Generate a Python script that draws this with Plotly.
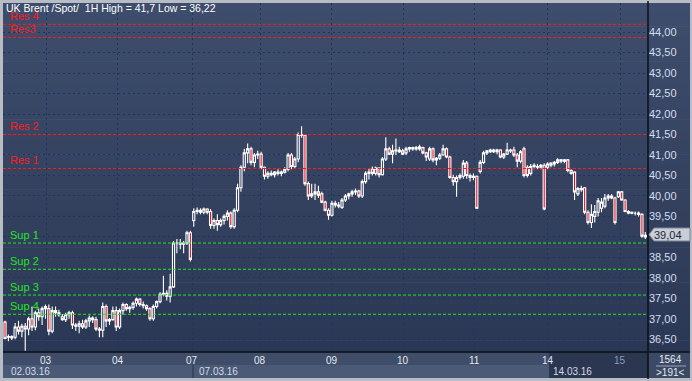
import plotly.graph_objects as go

# ---------------- data (UK Brent, 1H bars, 02.03.16 - 15.03.16) ----------------
open_ = [36.92,36.55,36.57,36.55,36.80,36.70,36.82,36.75,37.00,36.80,37.15,37.05,37.25,
         37.25,36.70,37.20,37.15,37.05,36.98,37.10,37.15,36.85,36.82,36.88,36.80,36.95,37.02,36.98,36.75,36.72,37.30,36.95,36.98,37.20,
         36.80,37.20,37.35,37.25,37.28,37.38,37.48,37.35,37.32,37.25,37.00,37.30,37.42,37.60,37.62,37.55,37.78,38.85,38.85,38.82,38.85,39.10,
         39.40,39.62,39.65,39.60,39.68,39.62,39.28,39.40,39.30,39.40,39.50,39.58,39.25,39.65,40.20,40.70,41.05,41.15,40.82,41.00,
         41.02,40.70,40.48,40.55,40.52,40.58,40.55,40.58,40.65,41.00,40.72,40.90,41.50,41.48,40.30,40.00,40.05,40.10,40.05,39.85,39.65,39.53,
         39.82,39.78,39.72,39.90,40.00,40.05,40.10,40.12,40.00,40.35,40.55,40.65,40.55,40.68,40.52,40.90,41.15,41.02,41.10,41.12,41.10,
         41.05,41.15,41.15,41.18,41.15,41.18,41.05,40.90,41.15,40.88,40.92,41.00,41.15,40.95,40.45,40.35,40.45,40.48,40.80,40.50,40.45,
         40.48,40.60,40.82,41.05,41.08,41.12,41.08,41.12,40.95,41.02,41.12,41.12,41.00,40.85,41.15,40.70,40.55,40.72,40.72,40.70,40.75,40.70,
         40.75,40.78,40.82,40.85,40.85,40.88,40.62,40.58,40.05,40.18,40.20,39.60,39.35,39.50,39.60,39.70,39.75,39.95,40.00,39.95,39.98,40.10,
         39.90,39.62,39.58,39.58,39.55,39.55,39.00]
high = [36.95,36.62,36.60,36.90,36.95,36.88,36.90,37.05,37.30,37.20,37.25,37.30,37.35,
        37.35,37.30,37.30,37.22,37.12,37.15,37.20,37.20,36.90,36.95,36.98,37.00,37.08,37.06,37.05,36.80,37.40,37.35,37.02,37.30,37.30,
        37.25,37.40,37.38,37.32,37.42,37.52,37.50,37.42,37.35,37.28,37.35,37.45,37.65,38.05,37.70,38.10,38.90,38.95,38.95,38.90,39.15,39.15,
        39.70,39.72,39.70,39.72,39.70,39.68,39.45,39.55,39.45,39.55,39.65,39.62,39.70,40.30,40.75,41.15,41.28,41.20,41.05,41.10,
        41.08,40.72,40.60,40.62,40.60,40.65,40.62,40.70,41.05,41.05,40.95,41.55,41.70,41.50,40.35,40.30,40.30,40.25,40.10,39.88,39.70,39.88,
        39.88,39.85,39.95,40.05,40.08,40.15,40.18,40.15,40.40,40.60,40.68,40.72,40.72,40.70,40.95,41.43,41.20,41.25,41.40,41.20,41.15,
        41.20,41.20,41.20,41.22,41.25,41.20,41.08,41.20,41.18,40.95,41.05,41.25,41.18,40.98,40.52,40.50,40.55,40.88,40.85,40.55,40.55,
        40.50,40.88,41.10,41.12,41.15,41.15,41.15,41.14,41.05,41.30,41.15,41.20,41.05,41.12,41.20,40.75,40.78,40.80,40.78,40.78,40.80,40.82,
        40.82,40.85,40.92,40.90,40.90,40.90,40.65,40.60,40.22,40.25,40.22,39.65,39.80,39.78,39.95,39.95,40.05,40.05,40.05,39.98,40.12,40.12,
        39.92,39.65,39.62,39.62,39.62,39.58,39.12]
low = [36.50,36.45,36.48,36.50,36.62,36.55,36.22,36.60,36.70,36.72,36.95,36.85,37.00,
       36.60,36.65,37.05,37.05,36.95,36.92,37.00,36.75,36.70,36.65,36.75,36.75,36.80,36.90,36.70,36.55,36.55,36.80,36.85,36.95,36.70,
       36.75,37.10,37.20,37.15,37.22,37.30,37.30,37.25,37.20,36.95,36.95,37.25,37.38,37.55,37.45,37.40,37.75,38.60,38.70,38.60,38.80,38.40,
       39.25,39.55,39.55,39.55,39.55,39.20,39.20,39.15,39.25,39.30,39.40,39.20,39.20,39.60,40.10,40.60,40.80,40.75,40.70,40.90,
       40.65,40.40,40.42,40.48,40.45,40.50,40.48,40.55,40.60,40.65,40.68,40.82,41.42,40.25,39.90,39.95,39.90,39.95,39.82,39.62,39.42,39.50,
       39.72,39.70,39.68,39.85,39.92,39.98,40.02,39.95,39.95,40.30,40.40,40.50,40.50,40.45,40.50,40.85,41.00,40.80,41.00,41.05,41.00,
       41.00,41.08,41.10,41.10,41.10,41.02,40.85,40.85,40.82,40.75,40.88,40.98,40.92,40.42,40.25,39.98,40.40,40.42,40.42,40.35,40.38,
       39.68,40.55,40.78,41.00,41.05,41.05,41.02,40.92,40.90,41.00,41.05,40.95,40.70,40.80,40.45,40.45,40.50,40.65,40.65,40.65,39.65,40.65,
       40.70,40.72,40.78,40.80,40.80,40.58,40.52,39.90,40.00,40.10,39.55,39.30,39.22,39.35,39.50,39.60,39.70,39.88,39.92,39.30,39.95,39.88,
       39.60,39.55,39.55,39.52,39.50,38.98,38.95]
close = [36.52,36.57,36.53,36.80,36.70,36.82,36.75,37.00,36.80,37.15,37.05,37.25,37.30,
         36.70,37.20,37.15,37.10,36.98,37.10,37.15,36.85,36.82,36.88,36.80,36.95,37.02,36.98,36.75,36.72,37.30,36.95,36.98,37.20,36.80,
         37.20,37.35,37.25,37.28,37.38,37.48,37.35,37.32,37.25,37.00,37.30,37.42,37.60,37.62,37.55,37.78,38.85,38.85,38.82,38.85,39.10,38.45,
         39.62,39.65,39.60,39.68,39.60,39.28,39.40,39.30,39.40,39.50,39.58,39.25,39.65,40.20,40.70,41.05,41.15,40.82,41.00,41.02,
         40.70,40.48,40.55,40.52,40.58,40.55,40.58,40.65,41.00,40.72,40.90,41.50,41.48,40.30,40.00,40.05,40.10,40.02,39.85,39.65,39.53,39.82,
         39.78,39.75,39.90,40.00,40.05,40.10,40.12,40.00,40.35,40.55,40.58,40.55,40.68,40.52,40.90,41.15,41.02,41.10,41.12,41.08,41.02,
         41.15,41.18,41.18,41.15,41.20,41.05,40.95,41.15,40.88,40.92,41.00,41.15,40.95,40.45,40.35,40.45,40.50,40.80,40.50,40.45,40.48,
         39.70,40.82,41.05,41.10,41.12,41.08,41.12,40.95,41.02,41.12,41.10,41.00,40.85,41.08,40.50,40.50,40.72,40.75,40.70,40.75,39.68,40.78,
         40.80,40.82,40.88,40.88,40.88,40.62,40.55,40.10,40.18,40.15,39.60,39.35,39.55,39.62,39.88,39.85,39.95,40.00,39.95,39.35,40.10,39.90,
         39.62,39.58,39.60,39.58,39.58,39.02,39.04]

day_labels = ["03", "04", "07", "08", "09", "10", "11", "14", "15"]
day_pos = [12.2, 33.5, 55.5, 75.7, 97.0, 118.1, 139.2, 161.1, 182.5]   # bar index of day start
date_labels = ["02.03.16", "07.03.16", "14.03.16"]

res_names = ["Res 4", "Res3", "Res 2", "Res 1"]
res_levels = [44.19, 43.87, 41.50, 40.67]
sup_names = ["Sup 1", "Sup 2", "Sup 3", "Sup 4"]
sup_levels = [38.85, 38.21, 37.58, 37.11]

y_ticks = [36.5 + 0.5 * k for k in range(16)]
# the 39,00 label sits under the last-price marker in the original, so it is hidden
y_ticktext = ["" if abs(v - 39.0) < 1e-9 else f"{v:.2f}".replace(".", ",") for v in y_ticks]

last_price = "39,04"
bar_count = "1564"
visible_bars = ">191<"
title_text = "UK Brent /Spot/  1H High = 41,7 Low = 36,22"

# ---------------- geometry helpers (pixel -> paper) ----------------
W, H = 692, 381
L, R, T, B = 3, 648, 3, 352
def PX(px):
    return (px - L) / (R - L)
def PY(py):
    return (B - py) / (B - T)

FONT = "Liberation Sans, Arial, sans-serif"
n = len(close)

fig = go.Figure(go.Candlestick(
    x=list(range(n)), open=open_, high=high, low=low, close=close,
    increasing=dict(line=dict(color="#ffffff", width=1.1), fillcolor="rgba(0,0,0,0)"),
    decreasing=dict(line=dict(color="#ffffff", width=1.1), fillcolor="#e4000f"),
    whiskerwidth=0, hoverinfo="skip", showlegend=False,
))

shapes = []
# gradient background (plot + right axis panel)
top_c = (0x3e, 0x4d, 0x6c)
bot_c = (0x2b, 0x38, 0x55)
NS = 30
for k in range(NS):
    t = k / (NS - 1)
    c = tuple(int(round(top_c[j] + (bot_c[j] - top_c[j]) * t)) for j in range(3))
    y0 = T + (B - T) * k / NS
    y1 = T + (B - T) * (k + 1) / NS + 0.5
    shapes.append(dict(type="rect", xref="paper", yref="paper", layer="below",
                       x0=PX(L), x1=PX(690), y0=PY(y1), y1=PY(y0),
                       fillcolor="rgb(%d,%d,%d)" % c, line=dict(width=0)))
# bottom axis panel rows
shapes.append(dict(type="rect", xref="paper", yref="paper", layer="below",
                   x0=PX(L), x1=PX(R), y0=PY(365), y1=PY(B),
                   fillcolor="#3f4d69", line=dict(width=0)))
shapes.append(dict(type="rect", xref="paper", yref="paper", layer="below",
                   x0=PX(L), x1=PX(R), y0=PY(378), y1=PY(365),
                   fillcolor="#4b5a77", line=dict(width=0)))
shapes.append(dict(type="rect", xref="paper", yref="paper", layer="below",
                   x0=PX(549), x1=PX(R), y0=PY(378), y1=PY(B),
                   fillcolor="#2b3651", line=dict(width=0)))
shapes.append(dict(type="line", xref="paper", yref="paper", layer="below",
                   x0=PX(193), x1=PX(193), y0=PY(378), y1=PY(365),
                   line=dict(color="#27324a", width=1)))
# bottom-right counter box
shapes.append(dict(type="rect", xref="paper", yref="paper", layer="below",
                   x0=PX(R), x1=PX(690), y0=PY(378), y1=PY(B),
                   fillcolor="#3b4965", line=dict(width=0)))
shapes.append(dict(type="line", xref="paper", yref="paper",
                   x0=PX(656), x1=PX(686), y0=PY(366), y1=PY(366),
                   line=dict(color="#9aa6ba", width=1)))
# frame lines
shapes.append(dict(type="line", xref="paper", yref="paper",
                   x0=PX(R), x1=PX(R), y0=PY(379), y1=PY(1),
                   line=dict(color="#0c0f14", width=1.5)))
shapes.append(dict(type="line", xref="paper", yref="paper",
                   x0=PX(L), x1=PX(690), y0=PY(B), y1=PY(B),
                   line=dict(color="#0c0f14", width=1.5)))
# resistance / support lines
for v in res_levels:
    shapes.append(dict(type="line", xref="paper", yref="y", x0=0, x1=1, y0=v, y1=v,
                       line=dict(color="#ff1a1a", width=1, dash="3px,2px")))
for v in sup_levels:
    shapes.append(dict(type="line", xref="paper", yref="y", x0=0, x1=1, y0=v, y1=v,
                       line=dict(color="#22e622", width=1, dash="3px,2px")))
# last-price marker box with arrow
ly = 234.5
shapes.append(dict(type="path", xref="paper", yref="paper",
                   path="M %f,%f L %f,%f L %f,%f L %f,%f L %f,%f Z" % (
                       PX(649), PY(ly), PX(654), PY(ly - 6.5), PX(690), PY(ly - 6.5),
                       PX(690), PY(ly + 6.5), PX(654), PY(ly + 6.5)),
                   fillcolor="#c9ced6", line=dict(color="#7d8594", width=1)))

annotations = []
annotations.append(dict(text=title_text, xref="paper", yref="paper", x=PX(4), y=PY(8),
                        xanchor="left", yanchor="middle", showarrow=False,
                        font=dict(family=FONT, size=10.5, color="#ffffff")))
for name, v in zip(res_names, res_levels):
    annotations.append(dict(text=name, xref="paper", yref="y", x=PX(8), y=v, yshift=8,
                            xanchor="left", yanchor="middle", showarrow=False,
                            font=dict(family=FONT, size=11, color="#ff1a1a")))
for name, v in zip(sup_names, sup_levels):
    annotations.append(dict(text=name, xref="paper", yref="y", x=PX(8), y=v, yshift=8,
                            xanchor="left", yanchor="middle", showarrow=False,
                            font=dict(family=FONT, size=11, color="#22e622")))
for lab, pos in zip(day_labels, day_pos):
    annotations.append(dict(text=lab, xref="x", yref="paper", x=pos, y=PY(360),
                            xanchor="center", yanchor="middle", showarrow=False,
                            font=dict(family=FONT, size=10,
                                      color="#8f9bb2" if lab == "15" else "#e4e9f2")))
for lab, px in zip(date_labels, [9, 197, 551]):
    annotations.append(dict(text=lab, xref="paper", yref="paper", x=PX(px), y=PY(371.5),
                            xanchor="left", yanchor="middle", showarrow=False,
                            font=dict(family=FONT, size=10, color="#d3dae6")))
annotations.append(dict(text=last_price, xref="paper", yref="paper", x=PX(652), y=PY(ly),
                        xanchor="left", yanchor="middle", showarrow=False,
                        font=dict(family=FONT, size=11, color="#1c2638")))
annotations.append(dict(text=bar_count, xref="paper", yref="paper", x=PX(670), y=PY(359),
                        xanchor="center", yanchor="middle", showarrow=False,
                        font=dict(family=FONT, size=10, color="#e4e9f2")))
annotations.append(dict(text=visible_bars, xref="paper", yref="paper", x=PX(670), y=PY(372.5),
                        xanchor="center", yanchor="middle", showarrow=False,
                        font=dict(family=FONT, size=10, color="#e4e9f2")))

grid = dict(showgrid=True, gridcolor="#1b3563", gridwidth=1, griddash="2px,3px",
            zeroline=False, showline=False, ticks="", fixedrange=True)

fig.update_layout(
    width=W, height=H,
    margin=dict(l=L, r=W - R, t=T, b=H - B, pad=0),
    paper_bgcolor="#b8bcc4",
    plot_bgcolor="rgba(0,0,0,0)",
    boxgap=0.1,
    font=dict(family=FONT, size=11, color="#d5deee"),
    xaxis=dict(range=[-0.6, n - 0.2], tickvals=day_pos, showticklabels=False,
               rangeslider=dict(visible=False), **grid),
    yaxis=dict(range=[36.19, 44.71], side="right", tickvals=y_ticks, ticktext=y_ticktext,
               tickfont=dict(family=FONT, size=11, color="#d5deee"), **grid),
    shapes=shapes,
    annotations=annotations,
    showlegend=False,
)

fig.write_html("out.html", config=dict(displayModeBar=False, staticPlot=True),
               post_script="document.body.style.margin='0';document.body.style.padding='0';"
                           "document.body.style.overflow='hidden';")
